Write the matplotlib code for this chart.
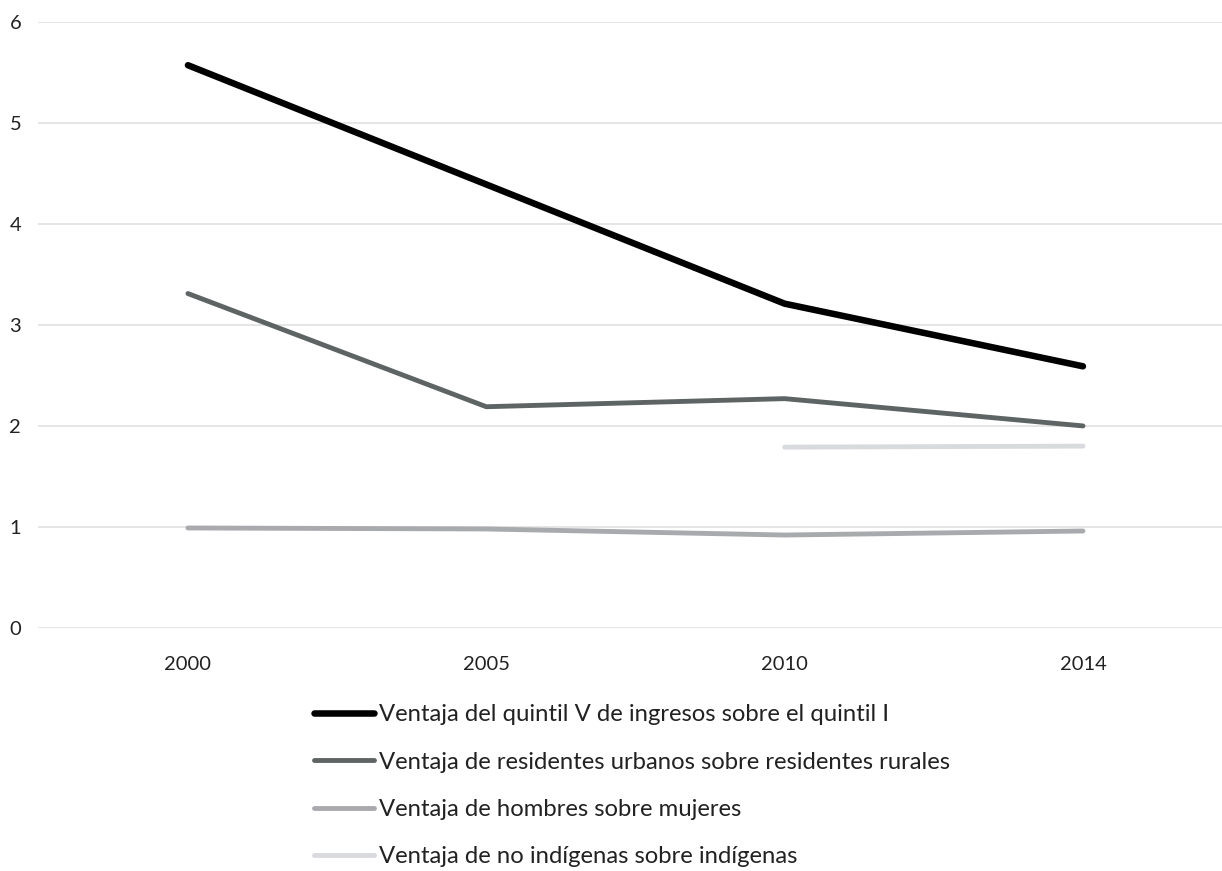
import matplotlib
matplotlib.use("Agg")
import matplotlib.pyplot as plt
import numpy as np

plt.rcParams["font.family"] = ["Lato", "DejaVu Sans"]

years = ["2000", "2005", "2010", "2014"]
quintil = [5.57, 4.39, 3.21, 2.59]
urbano = [3.31, 2.19, 2.27, 2.00]
hombres = [0.99, 0.98, 0.92, 0.96]
indigenas = [np.nan, np.nan, 1.79, 1.80]

labels = [
    "Ventaja del quintil V de ingresos sobre el quintil I",
    "Ventaja de residentes urbanos sobre residentes rurales",
    "Ventaja de hombres sobre mujeres",
    "Ventaja de no indígenas sobre indígenas",
]
colors = ["#000000", "#5e6464", "#a9aaae", "#d9dade"]
widths = [4.7, 3.5, 3.5, 3.5]

fig = plt.figure(figsize=(12.22, 8.71), dpi=100)
ax = fig.add_axes([0.031, 0.279, 0.969, 0.696])

x = np.arange(len(years))
series = [quintil, urbano, hombres, indigenas]
handles = []
for vals, lab, c, w in zip(series, labels, colors, widths):
    (ln,) = ax.plot(x, vals, color=c, lw=w, solid_capstyle="round", solid_joinstyle="round", label=lab)
    handles.append(ln)

ax.set_ylim(0, 6)
ax.set_xlim(-0.503, 3.466)
ax.set_yticks(range(0, 7))
ax.set_xticks(x)
ax.set_xticklabels(years)
ax.grid(axis="y", color="#e3e3e3", lw=1.3)
ax.set_axisbelow(True)
for s in ax.spines.values():
    s.set_visible(False)
ax.tick_params(length=0, labelsize=14.5, colors="#222222")
ax.tick_params(axis="x", pad=20)
ax.tick_params(axis="y", pad=12)

fig.legend(
    handles=handles,
    loc="upper left",
    bbox_to_anchor=(0.2475, 0.205),
    frameon=False,
    fontsize=17.2,
    handlelength=2.5,
    handletextpad=0.22,
    labelspacing=1.1,
    borderpad=0,
    labelcolor="#222222",
)

fig.savefig("out.png", dpi=100)
